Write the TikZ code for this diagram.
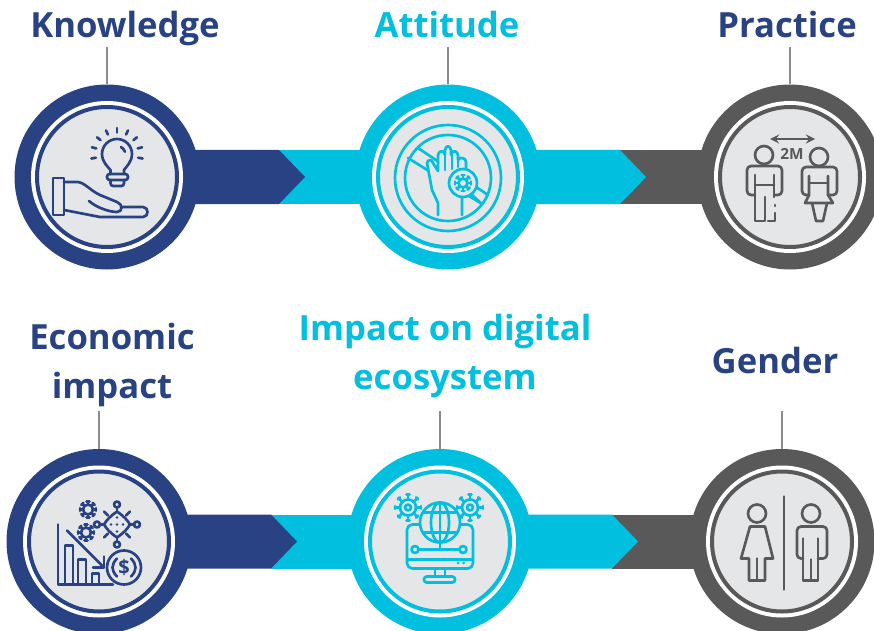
\documentclass[tikz,border=0pt]{standalone}
\usepackage{fontspec}
\usepackage{xcolor}
\setmainfont{Open Sans}
\definecolor{navy}{HTML}{284283}
\definecolor{aqua}{HTML}{00BFDF}
\definecolor{slate}{HTML}{595959}
\definecolor{pale}{HTML}{E5E6E8}
\tikzset{
    outer-ring/.style = {circle, inner sep=0pt, minimum size=138.75pt},
    white-ring/.style = {circle, inner sep=0pt, fill=white, minimum size=114pt},
    inner-disc/.style = {circle, inner sep=0pt, fill=pale, line width=3pt, minimum size=105pt},
    title-text/.style = {align=center, anchor=base, inner sep=0pt, font=\bfseries\fontsize{26}{36.75}\selectfont},
    leader/.style = {draw=black!45, line width=0.9pt},
    icon-line/.style = {line width=2pt, line join=round, line cap=round},
}
% badge: name, colour
\newcommand{\badge}[2]{
    \node [outer-ring, fill=#2] (#1) at (#1-c) {};
    \node [white-ring] (#1-ring) at (#1-c) {};
    \node [inner-disc, draw=#2] (#1-disc) at (#1-c) {};
}
% bar from one badge to the next: from, to, arrow colour, tail colour
\newcommand{\linkbar}[4]{
    \fill [#4] ([shift={(172,-27)}]#1-c) rectangle ([shift={(0,27)}]#2-c);
    \fill [#3] ([shift={(0,-27)}]#1-c) -- ++(172,0) -- ++(26,27) -- ++(-26,27) -- ++(-172,0) -- cycle;
}
% spiked germ: x, y, body radius, spike radius
\newcommand{\germ}[4]{
    \begin{scope}[shift={(#1,#2)}]
    \draw (0,0) circle (#3);
    \foreach \a in {0,45,...,315} {
        \draw [rotate=\a] (#3,0) -- (#4,0);
        \draw [rotate=\a] (#4,-1.5) -- (#4,1.5);
    }
    \end{scope}
}

\begin{document}
\begin{tikzpicture}[x=0.75pt, y=-0.75pt]
\clip (0,0) rectangle (874,631);

\coordinate (know-c) at (107,177);
\coordinate (attitude-c) at (448,177);
\coordinate (practice-c) at (790,177);
\coordinate (economic-c) at (99,541.5);
\coordinate (digital-c) at (440,541.5);
\coordinate (gender-c) at (782,541.5);

\linkbar{attitude}{practice}{aqua}{slate}
\linkbar{know}{attitude}{navy}{aqua}
\linkbar{digital}{gender}{aqua}{slate}
\linkbar{economic}{digital}{navy}{aqua}

\badge{know}{navy}
\badge{attitude}{aqua}
\badge{practice}{slate}
\badge{economic}{navy}
\badge{digital}{aqua}
\badge{gender}{slate}

\node [title-text, text=navy] (know-title) at (125,38) {Knowledge};
\node [title-text, text=aqua] (attitude-title) at (447,38) {Attitude};
\node [title-text, text=navy] (practice-title) at (787,38) {Practice};
\node [title-text, text=navy] (economic-title) at (112,398) {Economic\\impact};
\node [title-text, text=aqua] (digital-title) at (445,389) {Impact on digital\\ecosystem};
\node [title-text, text=navy] (gender-title) at (775,373) {Gender};

\coordinate (know-top) at (107,47);
\coordinate (attitude-top) at (448,47);
\coordinate (practice-top) at (790,47);
\coordinate (economic-top) at (99,411);
\coordinate (digital-top) at (440,411);
\coordinate (gender-top) at (782,411);
\foreach \n in {know,attitude,practice,economic,digital,gender}
    \draw [leader] (\n-top) -- (\n.north);

% hand and bulb
\begin{scope}[shift={(know-c)}, icon-line, draw=navy]
\draw (3.5,-3) -- (3.5,-7) .. controls (1,-10) and (-5,-15) .. (-5,-23) arc (180:360:15) .. controls (25,-15) and (19,-10) .. (17,-7) -- (17,-3);
\draw [rounded corners=2pt] (0,-3) rectangle (21,3);
\draw [rounded corners=2pt] (3.5,3) -- (3.5,9) -- (17,9) -- (17,3);
\draw (14,-30) arc (-60:-20:9);
\foreach \a in {170,195,...,370}
    \draw ([shift={(\a:21.5)}]10,-23) -- ([shift={(\a:26)}]10,-23);
\draw (-54,1) rectangle (-43,38);
\draw (-43,5) -- (-29,5) .. controls (-22,6) and (-16,14) .. (-7,18) -- (10,25) .. controls (16,27) and (16,35) .. (10,35) .. controls (3,35) and (-10,31) .. (-18,24);
\draw (14,30) -- (36,30) .. controls (42,30) and (42,40) .. (36,40) -- (-7,40) -- (-43,33);
\end{scope}

% hand in a no-entry ring
\begin{scope}[shift={(attitude-c)}, icon-line, draw=aqua]
\draw (0,1) circle (53);
\draw (0,1) circle (43);
\draw (-30,-29) -- (40,18);
\draw (-40,-19) -- (34,27);
\draw [fill=pale] (-10,38) -- (-10,26) -- (-16,13) -- (-21,-14) .. controls (-20,-18) and (-16,-18) .. (-15,-14) -- (-10,-6) -- (-10,-22) .. controls (-9,-27) and (-4,-27) .. (-3,-22) -- (-3,-27) .. controls (-2,-32) and (2,-32) .. (3,-27) -- (3,-22) .. controls (4,-27) and (9,-27) .. (10,-22) -- (10,-17) .. controls (11,-20) and (18,-20) .. (18,-15) -- (18,0) -- (14,20) -- (14,38);
\draw (-3,-22) -- (-3,-7);
\draw (4,-22) -- (4,-8);
\draw (10,-22) -- (10,-10);
\draw [fill=pale] (15,6) circle (14);
\germ{15}{6}{4.5}{8}
\draw (24,18) -- (34,27);
\end{scope}

% two people two metres apart
\begin{scope}[shift={(practice-c)}, icon-line, draw=slate]
\draw [<->, >=stealth] (-20,-38) -- (25,-38);
\node [font=\bfseries\fontsize{11.5}{11.5}\selectfont, text=slate] (practice-label) at (2,-23) {2M};
\draw (-26,-22) circle (9);
\draw (29,-20) circle (9);
\draw [rounded corners=3pt] (-35,18) -- (-43,18) -- (-43,-11) -- (-8,-11) -- (-8,18) -- (-16,18);
\draw (-35,-2) -- (-35,44) -- (-25,44) -- (-25,20);
\draw (-16,-2) -- (-16,20);
\draw (-35,8) -- (-16,8);
\draw (-15,28) -- (-15,29);
\draw (-15,36) -- (-15,44) -- (-22,44);
\draw [rounded corners=3pt] (19,18) -- (12,18) -- (12,-10) -- (47,-10) -- (47,18) -- (38,18);
\draw (19,-1) -- (19,18) -- (15,26) -- (43,26) -- (38,18) -- (38,-1);
\draw (19,6) -- (38,6);
\draw (22,26) -- (26,44) -- (33,44) -- (37,26);
\end{scope}

% falling chart, germs and coin
\begin{scope}[shift={(economic-c)}, icon-line, draw=navy]
\draw (-41,-17) -- (-41,43) -- (14,43);
\draw (-34,42) -- (-34,4) -- (-26,4) -- (-26,42);
\draw (-21,42) -- (-21,18) -- (-13,18) -- (-13,42);
\draw (-7,42) -- (-7,32) -- (0,32) -- (0,42);
\draw (-32,-11) -- (5,26);
\draw (5,15) -- (5,26) -- (-6,26);
\draw (25,26) circle (17);
\draw (18,17) .. controls (12,23) and (12,29) .. (18,35);
\draw (32,17) .. controls (38,23) and (38,29) .. (32,35);
\node [font=\bfseries\fontsize{15}{15}\selectfont, text=navy] (economic-coin) at (25,26) {\$};
\germ{-11}{-32}{5}{8}
\germ{-13}{-9}{5}{8}
\draw (18,-30) .. controls (25,-25) and (28,-22) .. (31,-17) .. controls (28,-12) and (25,-9) .. (18,-4) .. controls (11,-9) and (8,-12) .. (5,-17) .. controls (8,-22) and (11,-25) .. (18,-30) -- cycle;
\draw (18,-30) -- (18,-34);
\draw (18,-4) -- (18,0);
\draw (5,-17) -- (1,-17);
\draw (31,-17) -- (35,-17);
\draw (9,-26) -- (5,-30);
\draw (27,-26) -- (31,-30);
\draw (9,-8) -- (5,-4);
\draw (27,-8) -- (31,-4);
\draw (18,-37) circle (3);
\draw (18,3) circle (3);
\draw (-2,-17) circle (3);
\draw (38,-17) circle (3);
\foreach \p in {(18,-24),(12,-17),(18,-17),(24,-17),(18,-10)}
    \fill [navy] \p circle (1.3);
\end{scope}

% monitor, globe and germs
\begin{scope}[shift={(digital-c)}, icon-line, draw=aqua]
\germ{-32}{-34}{8}{13}
\germ{30}{-34}{8}{13}
\draw (-32,-34) circle (3);
\draw (30,-34) circle (3);
\draw [rounded corners=4pt, fill=pale] (-33,-17) rectangle (33,27);
\draw (-33,18) -- (33,18);
\fill [aqua] (18,21.5) circle (1.5) (23.5,21.5) circle (1.5);
\draw (-5,27) -- (-5,35);
\draw (5,27) -- (5,35);
\draw [rounded corners=2pt] (-16,35) rectangle (15,41);
\draw (-21,8) -- (19,8);
\draw (-25,8) circle (3.5);
\draw (23,8) circle (3.5);
\draw (0,1) -- (0,8);
\draw [fill=pale] (0,-19) circle (20);
\draw (0,-19) ellipse (9 and 20);
\draw (-17,-29) -- (17,-29);
\draw (-17,-9) -- (17,-9);
\draw (0,-39) -- (0,1);
\end{scope}

% woman, divider, man
\begin{scope}[shift={(gender-c)}, icon-line, draw=slate]
\draw (2,-45) -- (2,48);
\draw (-25,-28) circle (9);
\draw (-32,-15) -- (-17,-15) -- (-9,17) -- (-17,17) -- (-17,39) -- (-33,39) -- (-33,17) -- (-41,17) -- cycle;
\draw (-25,17) -- (-25,39);
\draw (29,-28) circle (9);
\draw [rounded corners=3pt] (21,17) -- (15,17) -- (15,-15) -- (45,-15) -- (45,17) -- (36,17);
\draw (21,-3) -- (21,39) -- (36,39) -- (36,-3);
\draw (29,18) -- (29,39);
\end{scope}
\end{tikzpicture}
\end{document}
